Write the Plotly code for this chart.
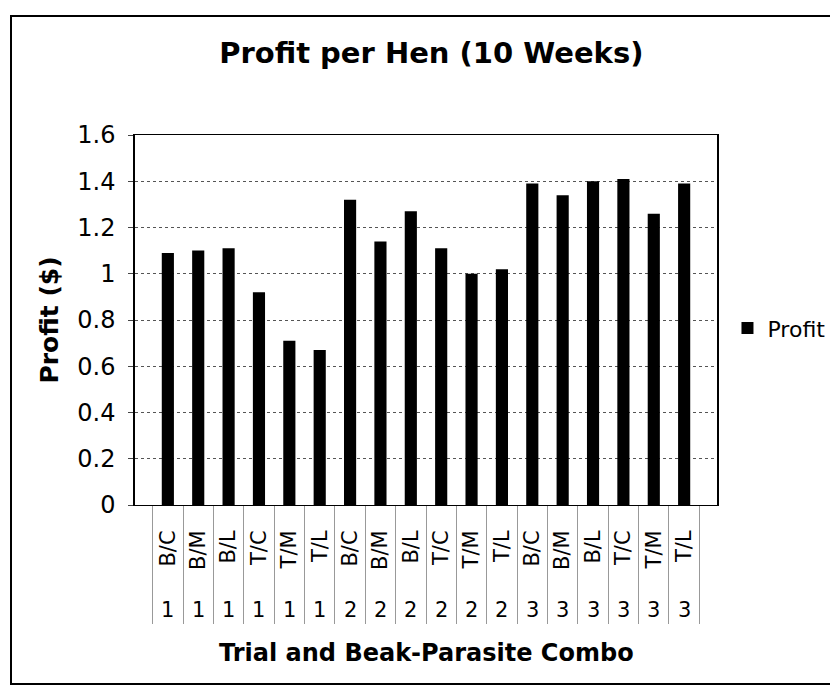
import plotly.graph_objects as go

combos = ["B/C", "B/M", "B/L", "T/C", "T/M", "T/L",
          "B/C", "B/M", "B/L", "T/C", "T/M", "T/L",
          "B/C", "B/M", "B/L", "T/C", "T/M", "T/L"]
trials = ["1", "1", "1", "1", "1", "1",
          "2", "2", "2", "2", "2", "2",
          "3", "3", "3", "3", "3", "3"]
profit = [1.09, 1.10, 1.11, 0.92, 0.71, 0.67,
          1.32, 1.14, 1.27, 1.11, 1.00, 1.02,
          1.39, 1.34, 1.40, 1.41, 1.26, 1.39]

keys = [f"{t}-{c}" for t, c in zip(trials, combos)]
FONT = "DejaVu Sans, Verdana, sans-serif"

W, H = 830, 680
ML, MR, MT, MB = 127, 121, 127, 183
PW, PH = W - ML - MR, H - MT - MB

fig = go.Figure()
fig.add_trace(go.Bar(x=keys, y=profit, name="Profit",
                     marker=dict(color="black", line=dict(width=0))))
# invisible trace on overlaid axis to draw category-boundary separators
fig.add_trace(go.Scatter(x=keys, y=profit, xaxis="x2", mode="markers",
                         marker=dict(opacity=0), showlegend=False, hoverinfo="skip"))

annotations = [dict(x=k, y=-105 / PH, xref="x", yref="paper", text=t, showarrow=False,
                    font=dict(family=FONT, size=21, color="black"),
                    xanchor="center", yanchor="middle")
               for k, t in zip(keys, trials)]
annotations.append(dict(x=0.5, y=-148 / PH, xref="paper", yref="paper",
                        text="<b>Trial and Beak-Parasite Combo</b>", showarrow=False,
                        font=dict(family=FONT, size=24, color="black"),
                        xanchor="center", yanchor="middle"))

fig.update_layout(
    width=W, height=H,
    margin=dict(l=ML, r=MR, t=MT, b=MB, autoexpand=False),
    paper_bgcolor="white", plot_bgcolor="white",
    font=dict(family=FONT, size=24, color="black"),
    title=dict(text="<b>Profit per Hen (10 Weeks)</b>", x=0.51, xanchor="center",
               y=1 - 45 / H, yanchor="middle", font=dict(family=FONT, size=29)),
    bargap=0.6,
    showlegend=True,
    legend=dict(x=1.018, y=0.478, xanchor="left", yanchor="middle",
                font=dict(family=FONT, size=22), bgcolor="rgba(0,0,0,0)",
                itemsizing="constant", itemwidth=30),
    xaxis=dict(type="category", tickmode="array", tickvals=keys, ticktext=combos,
               tickangle=-90, ticks="", ticklabelstandoff=16, automargin=False,
               showline=True, linecolor="black", linewidth=1,
               mirror=True, showgrid=False, tickfont=dict(family=FONT, size=21)),
    xaxis2=dict(type="category", overlaying="x", matches="x", side="bottom",
                anchor="y", showticklabels=False, ticks="outside", tickson="boundaries",
                ticklen=118, tickcolor="#999999", tickwidth=1, showgrid=False,
                showline=False, automargin=False),
    yaxis=dict(range=[0, 1.6], dtick=0.2, tick0=0, showline=True, linecolor="black",
               linewidth=1.5, mirror=True, ticks="outside", ticklen=5,
               ticklabelstandoff=8, automargin=False,
               showgrid=True, gridcolor="#555555", griddash="dot", gridwidth=1,
               zeroline=False,
               title=dict(text="<b>Profit ($)</b>", standoff=12,
                          font=dict(family=FONT, size=25)),
               tickfont=dict(family=FONT, size=24)),
    annotations=annotations,
    shapes=[dict(type="rect", xref="paper", yref="paper",
                 x0=-(ML - 3) / PW, x1=1 + (MR + 20) / PW,
                 y0=-(MB - 4) / PH, y1=1 + (MT - 8) / PH,
                 line=dict(color="black", width=2))],
)

fig.write_html("out.html")
